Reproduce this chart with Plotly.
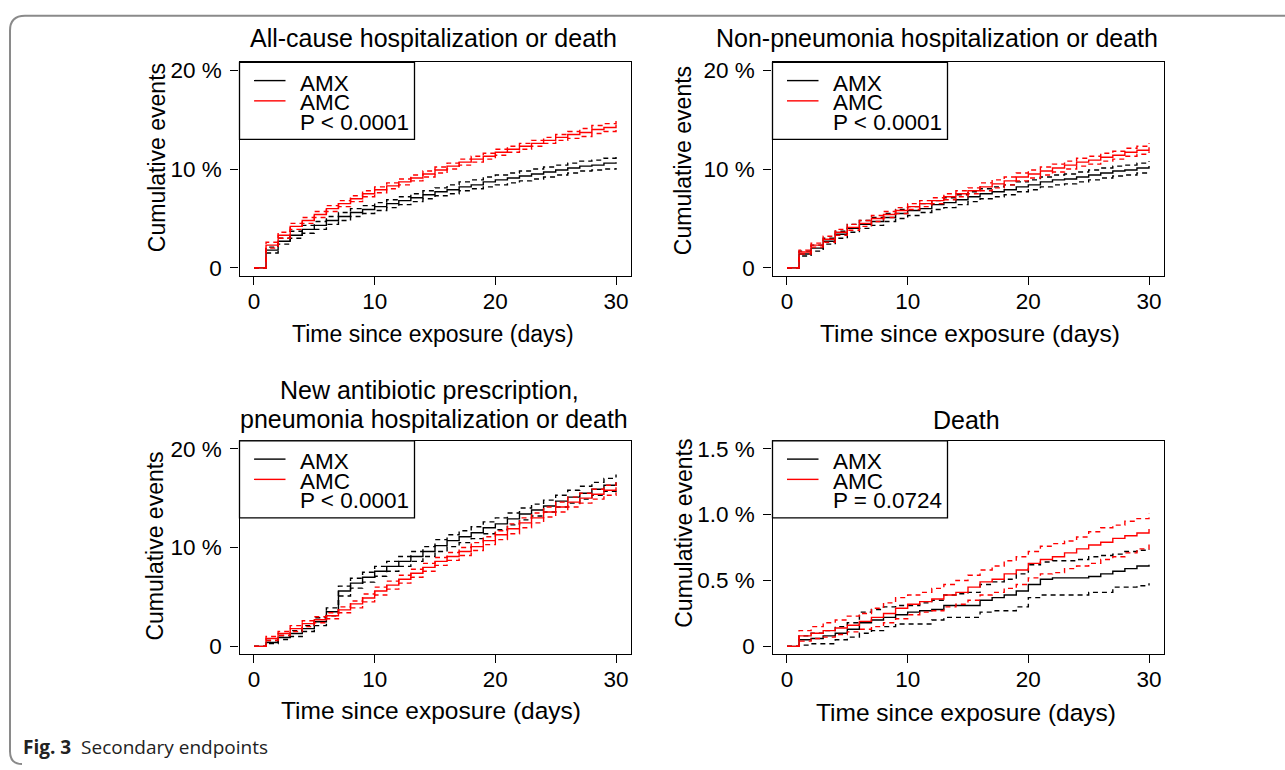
import plotly.graph_objects as go

W, H = 1285, 770
FONT = "Liberation Sans, Arial, Helvetica, sans-serif"

# ---------------- data ----------------
DAYS = [0, 1, 2, 3, 4, 5, 6, 7, 8, 9, 10, 11, 12, 13, 14, 15,
        16, 17, 18, 19, 20, 21, 22, 23, 24, 25, 26, 27, 28, 29, 30]
GROUPS = ["AMX", "AMC"]

# Panel 1: All-cause hospitalization or death (%)
P1_AMX_EST = [0, 1.8, 2.7, 3.3, 3.9, 4.3, 4.8, 5.2, 5.6, 5.9, 6.2, 6.5, 6.8, 7.1, 7.4, 7.7,
              7.9, 8.2, 8.4, 8.7, 8.9, 9.1, 9.3, 9.5, 9.7, 9.9, 10.1, 10.3, 10.4, 10.6, 10.7]
P1_AMX_LO = [0, 1.5, 2.4, 3.0, 3.5, 3.9, 4.4, 4.8, 5.2, 5.5, 5.8, 6.1, 6.4, 6.7, 7.0, 7.3,
             7.5, 7.8, 8.0, 8.2, 8.4, 8.6, 8.8, 9.0, 9.2, 9.4, 9.6, 9.8, 9.9, 10.0, 10.1]
P1_AMX_HI = [0, 2.1, 3.0, 3.7, 4.3, 4.7, 5.2, 5.6, 6.0, 6.3, 6.6, 6.9, 7.2, 7.5, 7.8, 8.1,
             8.4, 8.7, 8.9, 9.2, 9.4, 9.6, 9.8, 10.0, 10.2, 10.4, 10.6, 10.8, 10.9, 11.1, 11.3]
P1_AMC_EST = [0, 2.3, 3.3, 4.2, 4.8, 5.4, 6.0, 6.5, 7.0, 7.5, 7.9, 8.3, 8.7, 9.1, 9.5, 9.9,
              10.3, 10.7, 11.0, 11.3, 11.7, 12.0, 12.3, 12.6, 12.9, 13.2, 13.5, 13.7, 14.0, 14.2, 14.5]
P1_AMC_LO = [0, 2.0, 3.0, 3.9, 4.5, 5.1, 5.7, 6.2, 6.7, 7.2, 7.6, 8.0, 8.4, 8.8, 9.2, 9.6,
             10.0, 10.4, 10.7, 11.0, 11.4, 11.7, 12.0, 12.3, 12.6, 12.9, 13.1, 13.3, 13.6, 13.8, 14.1]
P1_AMC_HI = [0, 2.6, 3.6, 4.5, 5.1, 5.7, 6.3, 6.8, 7.3, 7.8, 8.2, 8.6, 9.0, 9.4, 9.8, 10.2,
             10.6, 11.0, 11.3, 11.6, 12.0, 12.3, 12.6, 12.9, 13.2, 13.5, 13.8, 14.1, 14.4, 14.6, 14.9]

# Panel 2: Non-pneumonia hospitalization or death (%)
P2_AMX_EST = [0, 1.4, 2.0, 2.7, 3.4, 4.0, 4.4, 4.7, 5.1, 5.5, 5.8, 6.0, 6.4, 6.6, 6.9, 7.2,
              7.5, 7.7, 7.9, 8.2, 8.4, 8.7, 8.9, 9.0, 9.2, 9.4, 9.6, 9.8, 9.9, 10.1, 10.3]
P2_AMX_LO = [0, 1.2, 1.7, 2.4, 3.0, 3.6, 4.0, 4.3, 4.7, 5.0, 5.3, 5.6, 5.9, 6.1, 6.4, 6.7,
             7.0, 7.2, 7.4, 7.7, 7.9, 8.2, 8.4, 8.5, 8.7, 8.9, 9.1, 9.3, 9.4, 9.6, 9.8]
P2_AMX_HI = [0, 1.7, 2.3, 3.0, 3.7, 4.4, 4.8, 5.1, 5.5, 5.9, 6.2, 6.5, 6.8, 7.1, 7.4, 7.7,
             8.0, 8.2, 8.4, 8.7, 8.9, 9.2, 9.4, 9.5, 9.7, 9.9, 10.1, 10.3, 10.4, 10.6, 10.8]
P2_AMC_EST = [0, 1.6, 2.3, 2.9, 3.6, 4.1, 4.5, 5.0, 5.4, 5.8, 6.2, 6.5, 6.8, 7.2, 7.5, 7.8,
              8.2, 8.5, 8.8, 9.2, 9.5, 9.8, 10.1, 10.4, 10.7, 10.9, 11.2, 11.4, 11.7, 11.9, 12.2]
P2_AMC_LO = [0, 1.4, 2.1, 2.6, 3.3, 3.8, 4.2, 4.7, 5.1, 5.5, 5.9, 6.2, 6.5, 6.9, 7.2, 7.5,
             7.8, 8.1, 8.4, 8.8, 9.1, 9.4, 9.7, 10.0, 10.3, 10.5, 10.8, 11.0, 11.3, 11.5, 11.8]
P2_AMC_HI = [0, 1.8, 2.5, 3.2, 3.9, 4.4, 4.8, 5.3, 5.7, 6.1, 6.5, 6.8, 7.1, 7.5, 7.8, 8.1,
             8.6, 8.9, 9.2, 9.6, 9.9, 10.2, 10.5, 10.8, 11.1, 11.3, 11.6, 11.8, 12.1, 12.3, 12.6]

# Panel 3: New antibiotic prescription, pneumonia hospitalization or death (%)
P3_AMX_EST = [0, 0.4, 0.9, 1.3, 1.8, 2.5, 3.5, 5.6, 6.4, 7.0, 7.6, 8.1, 8.6, 9.1, 9.6, 10.2,
              10.7, 11.1, 11.5, 12.0, 12.4, 12.9, 13.4, 13.8, 14.2, 14.7, 15.1, 15.5, 15.9, 16.3, 16.6]
P3_AMX_LO = [0, 0.3, 0.7, 1.0, 1.5, 2.1, 3.1, 5.1, 5.9, 6.5, 7.1, 7.6, 8.1, 8.6, 9.1, 9.6,
             10.1, 10.5, 10.9, 11.4, 11.8, 12.3, 12.8, 13.2, 13.6, 14.1, 14.5, 14.9, 15.3, 15.7, 16.0]
P3_AMX_HI = [0, 0.6, 1.1, 1.6, 2.1, 2.9, 3.9, 6.1, 6.9, 7.5, 8.1, 8.6, 9.1, 9.6, 10.1, 10.8,
             11.3, 11.7, 12.1, 12.6, 13.0, 13.5, 14.0, 14.4, 14.8, 15.3, 15.8, 16.2, 16.6, 17.0, 17.4]
P3_AMC_EST = [0, 0.8, 1.3, 1.8, 2.3, 2.7, 3.1, 3.7, 4.3, 4.9, 5.6, 6.2, 6.8, 7.4, 8.0, 8.6,
              9.1, 9.6, 10.1, 10.7, 11.3, 11.9, 12.5, 13.0, 13.6, 14.1, 14.6, 15.0, 15.4, 15.8, 16.1]
P3_AMC_LO = [0, 0.6, 1.1, 1.5, 2.0, 2.4, 2.8, 3.4, 3.9, 4.5, 5.2, 5.8, 6.4, 7.0, 7.6, 8.2,
             8.7, 9.2, 9.7, 10.3, 10.8, 11.4, 12.0, 12.5, 13.1, 13.6, 14.1, 14.5, 14.9, 15.3, 15.6]
P3_AMC_HI = [0, 1.0, 1.5, 2.1, 2.6, 3.0, 3.4, 4.0, 4.6, 5.3, 6.0, 6.6, 7.2, 7.8, 8.4, 9.0,
             9.5, 10.0, 10.5, 11.1, 11.7, 12.4, 13.0, 13.5, 14.1, 14.6, 15.1, 15.5, 15.9, 16.3, 16.6]

# Panel 4: Death (%)
P4_AMX_EST = [0, 0.05, 0.06, 0.08, 0.10, 0.13, 0.18, 0.20, 0.22, 0.24, 0.26, 0.27, 0.28, 0.31, 0.31, 0.31,
              0.35, 0.37, 0.39, 0.42, 0.47, 0.51, 0.52, 0.52, 0.52, 0.53, 0.55, 0.57, 0.59, 0.61, 0.62]
P4_AMX_LO = [0, 0.01, 0.02, 0.02, 0.05, 0.07, 0.10, 0.12, 0.15, 0.17, 0.17, 0.17, 0.20, 0.22, 0.22, 0.22,
             0.26, 0.27, 0.27, 0.30, 0.37, 0.39, 0.39, 0.39, 0.39, 0.41, 0.41, 0.45, 0.45, 0.46, 0.48]
P4_AMX_HI = [0, 0.08, 0.10, 0.12, 0.15, 0.18, 0.26, 0.28, 0.30, 0.31, 0.31, 0.33, 0.35, 0.39, 0.40, 0.41,
             0.47, 0.49, 0.51, 0.55, 0.62, 0.64, 0.65, 0.65, 0.66, 0.68, 0.69, 0.70, 0.72, 0.73, 0.74]
P4_AMC_EST = [0, 0.08, 0.10, 0.12, 0.14, 0.16, 0.19, 0.22, 0.25, 0.29, 0.32, 0.34, 0.36, 0.39, 0.41, 0.45,
              0.49, 0.51, 0.55, 0.58, 0.63, 0.66, 0.68, 0.71, 0.74, 0.77, 0.79, 0.82, 0.84, 0.86, 0.89]
P4_AMC_LO = [0, 0.04, 0.06, 0.07, 0.09, 0.11, 0.13, 0.15, 0.18, 0.21, 0.24, 0.26, 0.27, 0.30, 0.32, 0.35,
             0.39, 0.41, 0.44, 0.47, 0.52, 0.55, 0.56, 0.59, 0.61, 0.63, 0.66, 0.68, 0.71, 0.74, 0.79]
P4_AMC_HI = [0, 0.12, 0.15, 0.18, 0.20, 0.23, 0.25, 0.29, 0.33, 0.37, 0.39, 0.41, 0.44, 0.47, 0.50, 0.54,
             0.58, 0.61, 0.65, 0.68, 0.72, 0.76, 0.78, 0.80, 0.83, 0.87, 0.90, 0.92, 0.95, 0.97, 1.01]

TITLES = [["All-cause hospitalization or death"],
          ["Non-pneumonia hospitalization or death"],
          ["New antibiotic prescription,", "pneumonia hospitalization or death"],
          ["Death"]]
P_TEXTS = ["P &lt; 0.0001", "P &lt; 0.0001", "P &lt; 0.0001", "P = 0.0724"]
X_LABEL = "Time since exposure (days)"
Y_LABEL = "Cumulative events"
X_TICKS = [0, 10, 20, 30]
X_TICK_TEXT = ["0", "10", "20", "30"]
Y_TICKS_20 = [0, 10, 20]
Y_TICK_TEXT_20 = ["0", "10 %", "20 %"]
Y_TICKS_DEATH = [0, 0.5, 1.0, 1.5]
Y_TICK_TEXT_DEATH = ["0", "0.5 %", "1.0 %", "1.5 %"]
CAPTION_BOLD = "Fig. 3"
CAPTION_TEXT = "Secondary endpoints"

SERIES = {
    1: {"AMX": (P1_AMX_EST, P1_AMX_LO, P1_AMX_HI), "AMC": (P1_AMC_EST, P1_AMC_LO, P1_AMC_HI)},
    2: {"AMX": (P2_AMX_EST, P2_AMX_LO, P2_AMX_HI), "AMC": (P2_AMC_EST, P2_AMC_LO, P2_AMC_HI)},
    3: {"AMX": (P3_AMX_EST, P3_AMX_LO, P3_AMX_HI), "AMC": (P3_AMC_EST, P3_AMC_LO, P3_AMC_HI)},
    4: {"AMX": (P4_AMX_EST, P4_AMX_LO, P4_AMX_HI), "AMC": (P4_AMC_EST, P4_AMC_LO, P4_AMC_HI)},
}
COLORS = {"AMX": "#000000", "AMC": "#ff0000"}

# ---------------- geometry (pixels) ----------------
BOX = {1: (239.5, 630.5, 59, 275), 2: (772.5, 1163.5, 59, 275),
       3: (239.5, 630.5, 442, 658), 4: (772.5, 1163.5, 442, 658)}
YRANGE = {1: [-0.8, 20.8], 2: [-0.8, 20.8], 3: [-0.8, 20.8], 4: [-0.06, 1.56]}
YTICKS = {1: (Y_TICKS_20, Y_TICK_TEXT_20), 2: (Y_TICKS_20, Y_TICK_TEXT_20),
          3: (Y_TICKS_20, Y_TICK_TEXT_20), 4: (Y_TICKS_DEATH, Y_TICK_TEXT_DEATH)}
TITLE_POS = {1: [(433.5, 43)], 2: [(937, 43)], 3: [(430, 400), (434, 429)], 4: [(966, 430)]}
XLAB_POS = {1: (433, 342, 23), 2: (970, 342, 24.5), 3: (431, 724, 24.5), 4: (966, 726, 24.5)}
YLAB_POS = {1: (157, 156), 2: (683, 159), 3: (155, 549), 4: (684, 536)}


def fx(px):
    return px / W


def fy(py):
    return 1 - py / H


fig = go.Figure()
layout = dict(width=W, height=H, margin=dict(l=0, r=0, t=0, b=0),
              paper_bgcolor="white", plot_bgcolor="white", showlegend=False,
              font=dict(family=FONT, color="black"))
shapes = []
annotations = []

for i in range(1, 5):
    xn = "x" if i == 1 else f"x{i}"
    yn = "y" if i == 1 else f"y{i}"
    for g in GROUPS:
        est, lo, hi = SERIES[i][g]
        for vals, dash in ((lo, "5px,4px"), (hi, "5px,4px"), (est, "solid")):
            fig.add_trace(go.Scatter(x=DAYS, y=vals, mode="lines", xaxis=xn, yaxis=yn,
                                     line=dict(color=COLORS[g], width=1.4, dash=dash, shape="hv"),
                                     hoverinfo="skip"))
    x0, x1, y0, y1 = BOX[i]
    axis_common = dict(showgrid=False, zeroline=False, showline=True, linecolor="black",
                       linewidth=1.3, mirror=True, ticks="outside", ticklen=8, tickwidth=1.2,
                       tickcolor="black", tickfont=dict(size=22.5, family=FONT, color="black"))
    layout["xaxis" if i == 1 else f"xaxis{i}"] = dict(
        domain=[fx(x0), fx(x1)], range=[-1.2, 31.2], anchor=yn,
        tickvals=X_TICKS, ticktext=X_TICK_TEXT, ticklabelstandoff=-3, **axis_common)
    yt, ytt = YTICKS[i]
    layout["yaxis" if i == 1 else f"yaxis{i}"] = dict(
        domain=[fy(y1), fy(y0)], range=YRANGE[i], anchor=xn,
        tickvals=yt, ticktext=ytt, ticklabelstandoff=4, **axis_common)

    # legend box
    xd, yd = f"{xn} domain", f"{yn} domain"
    bw, bh = x1 - x0, y1 - y0
    shapes.append(dict(type="rect", xref=xd, yref=yd, x0=0, x1=175 / bw, y0=1 - 78 / bh, y1=1,
                       line=dict(color="black", width=1.3), fillcolor="white", layer="above"))
    for k, g in enumerate(GROUPS):
        ly = 1 - (18.5 + 20.5 * k) / bh
        shapes.append(dict(type="line", xref=xd, yref=yd, x0=14.5 / bw, x1=46 / bw, y0=ly, y1=ly,
                           line=dict(color=COLORS[g], width=1.4), layer="above"))
        annotations.append(dict(text=g, xref=xd, yref=yd, x=58.5 / bw, y=1 - (21 + 20 * k) / bh,
                                xanchor="left", yanchor="middle", showarrow=False,
                                font=dict(size=22.5, family=FONT, color="black")))
    annotations.append(dict(text=P_TEXTS[i - 1], xref=xd, yref=yd, x=58.5 / bw, y=1 - 60.5 / bh,
                            xanchor="left", yanchor="middle", showarrow=False,
                            font=dict(size=22.5, family=FONT, color="black")))

    # titles
    for line, (tx, tb) in zip(TITLES[i - 1], TITLE_POS[i]):
        annotations.append(dict(text=line, xref="paper", yref="paper", x=fx(tx), y=fy(tb - 9),
                                xanchor="center", yanchor="middle", showarrow=False,
                                font=dict(size=25, family=FONT, color="black")))
    # axis labels
    lx, lb, ls = XLAB_POS[i]
    annotations.append(dict(text=X_LABEL, xref="paper", yref="paper", x=fx(lx), y=fy(lb - 0.36 * ls),
                            xanchor="center", yanchor="middle", showarrow=False,
                            font=dict(size=ls, family=FONT, color="black")))
    yx, yy = YLAB_POS[i]
    annotations.append(dict(text=Y_LABEL, xref="paper", yref="paper", x=fx(yx), y=fy(yy),
                            xanchor="center", yanchor="middle", showarrow=False, textangle=-90,
                            font=dict(size=23, family=FONT, color="black")))

# caption
annotations.append(dict(text=f"<b>{CAPTION_BOLD}</b>\u00a0\u00a0{CAPTION_TEXT}", xref="paper", yref="paper",
                        x=fx(21), y=fy(752), xanchor="left", yanchor="middle", showarrow=False,
                        font=dict(size=19, family="Open Sans, Noto Sans, sans-serif", color="#222222")))

# outer frame of the figure panel
frame_path = (f"M {fx(1300)},{fy(12)} L {fx(25)},{fy(12)} Q {fx(10)},{fy(12)} {fx(10)},{fy(27)} "
              f"L {fx(10)},{fy(756)} Q {fx(10)},{fy(769)} {fx(22)},{fy(769)}")
shapes.append(dict(type="path", xref="paper", yref="paper", path=frame_path,
                   line=dict(color="#8a8a8a", width=2)))

layout["shapes"] = shapes
layout["annotations"] = annotations
fig.update_layout(**layout)

PAGE_FIX = ("document.body.style.margin='0';document.body.style.padding='0';"
            "document.body.style.overflow='hidden';"
            "var gd=document.getElementById('{plot_id}');"
            "if(gd&&gd.parentElement){gd.parentElement.style.margin='0';gd.parentElement.style.lineHeight='0';}")
fig.write_html("out.html", post_script=PAGE_FIX, config={"displayModeBar": False})
